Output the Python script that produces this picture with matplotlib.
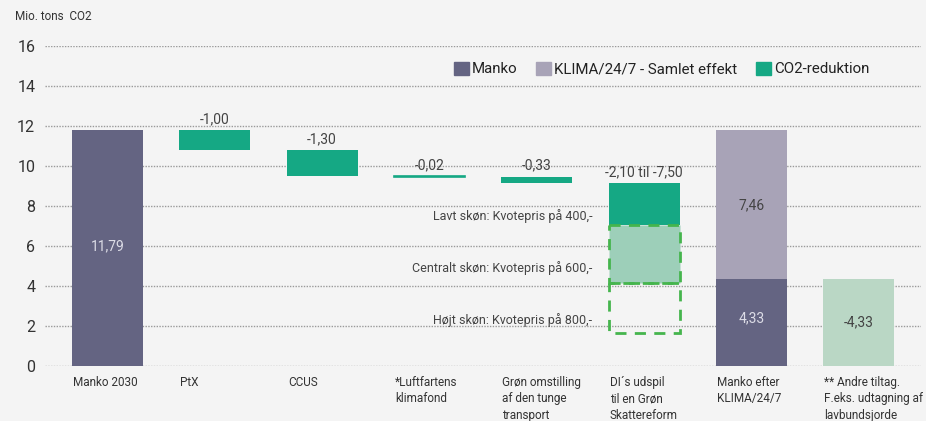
import matplotlib.pyplot as plt
from matplotlib.patches import Patch
import numpy as np

plt.rcParams['font.family'] = ['Roboto', 'DejaVu Sans']

categories = ["Manko 2030", "PtX", "CCUS", "*Luftfartens\nklimafond",
              "Grøn omstilling\naf den tunge\ntransport", "DI´s udspil\ntil en Grøn\nSkattereform",
              "Manko efter\nKLIMA/24/7", "** Andre tiltag.\nF.eks. udtagning af\nlavbundsjorde"]
manko_2030 = 11.79
reductions = [1.00, 1.30, 0.02, 0.33]
reduction_labels = ["-1,00", "-1,30", "-0,02", "-0,33"]
di_low, di_central, di_high = 2.10, 5.00, 7.50
di_label = "-2,10 til -7,50"
scenario_labels = ["Lavt skøn: Kvotepris på 400,-", "Centralt skøn: Kvotepris på 600,-",
                   "Højt skøn: Kvotepris på 800,-"]
manko_efter = 4.33
klima_total = 7.46
andre = 4.33

c_manko = "#646482"
c_klima = "#a8a3b7"
c_green = "#15a884"
c_lightgreen = "#bad7c5"
c_central = "#9dcfb9"
c_dash = "#45b54d"
bg = "#f4f4f4"

fig = plt.figure(figsize=(9.26, 4.21), dpi=100, facecolor=bg)
ax = fig.add_axes([45/926, 55/421, 876/926, 320/421], facecolor=bg)
x = np.arange(len(categories))
w = 0.66

# grid
for yv in range(0, 17, 2):
    ax.axhline(yv, color="#9a9a9a", lw=1.0, ls=(0, (1, 1)), zorder=0)

ax.bar(x[0], manko_2030, w, color=c_manko, zorder=2)
ax.text(x[0], 6.0, "11,79", ha="center", va="center", color="#dcdce6", fontsize=10)

level = manko_2030
for i, (r, lab) in enumerate(zip(reductions, reduction_labels)):
    ax.bar(x[i + 1], -r, w, bottom=level, color=c_green, edgecolor=c_green,
           lw=1.2 if r < 0.1 else 0, zorder=2)
    ax.text(x[i + 1], level + 0.2, lab, ha="center", va="bottom", color="#444444", fontsize=10)
    level -= r

# DI scenarios
xd = x[5]
ax.bar(xd, -di_low, w, bottom=level, color=c_green, zorder=2)
ax.bar(xd, -(di_central - di_low), w, bottom=level - di_low, color=c_central,
       edgecolor=c_dash, lw=2, ls=(0, (4, 3)), zorder=2)
ax.bar(xd, -(di_high - di_central), w, bottom=level - di_central, color="none",
       edgecolor=c_dash, lw=2, ls=(0, (4, 3)), zorder=2)
ax.text(xd, level + 0.2, di_label, ha="center", va="bottom", color="#444444", fontsize=10)
for lab, yv in zip(scenario_labels, [7.5, 4.9, 2.3]):
    ax.text(xd - 0.48, yv, lab, ha="right", va="center", color="#444444", fontsize=9)

# Manko efter
ax.bar(x[6], manko_efter, w, color=c_manko, zorder=2)
ax.bar(x[6], klima_total, w, bottom=manko_efter, color=c_klima, zorder=2)
ax.text(x[6], 2.4, "4,33", ha="center", va="center", color="#dcdce6", fontsize=10)
ax.text(x[6], manko_efter + klima_total / 2, "7,46", ha="center", va="center", color="#444444", fontsize=10)

ax.bar(x[7], andre, w, color=c_lightgreen, zorder=2)
ax.text(x[7], 2.17, "-4,33", ha="center", va="center", color="#444444", fontsize=10)

ax.set_xlim(-0.582, 7.58)
ax.set_ylim(0, 16)
ax.set_yticks(range(0, 17, 2))
ax.tick_params(axis="y", length=0, pad=7, labelsize=11.5, labelcolor="#333333")
ax.set_xticks([])
for s in ax.spines.values():
    s.set_visible(False)

for xi, lab in zip(x, categories):
    ax.text(xi - w / 2 + 0.01, -0.5, lab, ha="left", va="top", fontsize=8.5,
            color="#333333", linespacing=1.33)

fig.text(15/926, 1 - 17/421, "Mio. tons  CO2", ha="left", va="center", fontsize=8.5, color="#333333")

handles = [Patch(color=c_manko), Patch(color=c_klima), Patch(color=c_green)]
ax.legend(handles, ["Manko", "KLIMA/24/7 - Samlet effekt", "CO2-reduktion"], ncol=3,
          loc="center left", bbox_to_anchor=((446 - 45) / 876, (366 - 69) / 320),
          frameon=False, fontsize=10.8, handlelength=1.0, handleheight=1.0,
          handletextpad=0.2, columnspacing=1.25, borderpad=0, labelcolor="#222222")

fig.savefig("out.png", dpi=100, facecolor=bg)
